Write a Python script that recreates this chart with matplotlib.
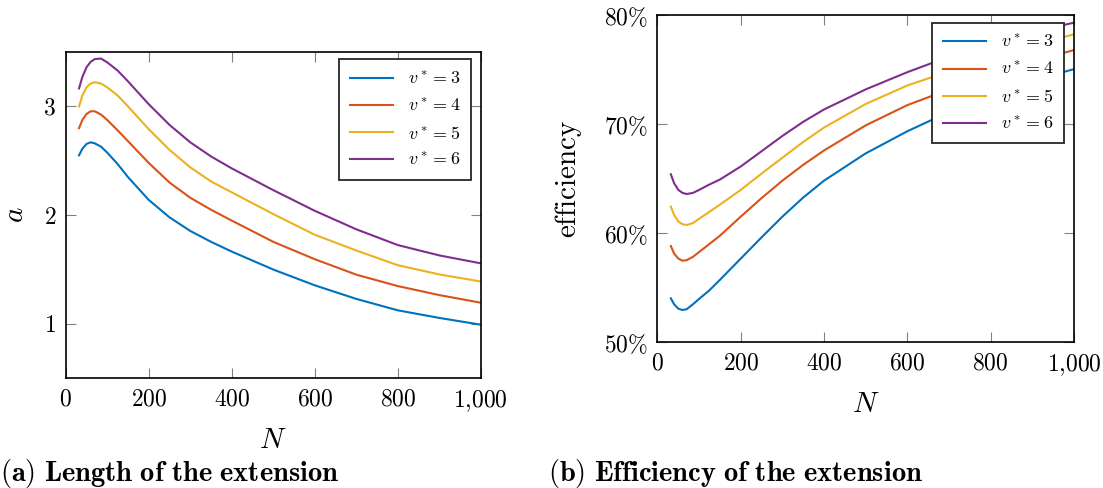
import matplotlib
matplotlib.use("Agg")
import matplotlib.pyplot as plt
from matplotlib.ticker import FuncFormatter

plt.rcParams['mathtext.fontset'] = 'cm'
plt.rcParams['font.family'] = ['cmr10', 'DejaVu Serif']
plt.rcParams['axes.formatter.use_mathtext'] = True

# N values shared by both panels
N = [32, 40, 50, 60, 70, 85, 100, 125, 150, 200, 250, 300, 350, 400, 500, 600, 700, 800, 900, 1000]

labels = [r'$v^* = 3$', r'$v^* = 4$', r'$v^* = 5$', r'$v^* = 6$']
colors = ['#0072BD', '#D95319', '#EDB120', '#7E2F8E']

# (a) length of the extension
a_v3 = [2.55, 2.61, 2.655, 2.67, 2.66, 2.63, 2.575, 2.47, 2.35, 2.14, 1.98, 1.855, 1.755, 1.665, 1.50, 1.355, 1.23, 1.125, 1.055, 0.993]
a_v4 = [2.80, 2.875, 2.93, 2.955, 2.955, 2.925, 2.875, 2.78, 2.68, 2.48, 2.30, 2.16, 2.05, 1.95, 1.755, 1.595, 1.453, 1.348, 1.265, 1.195]
a_v5 = [3.0, 3.10, 3.175, 3.21, 3.223, 3.21, 3.175, 3.10, 3.00, 2.79, 2.60, 2.44, 2.31, 2.21, 2.01, 1.82, 1.675, 1.54, 1.455, 1.39]
a_v6 = [3.165, 3.27, 3.36, 3.41, 3.435, 3.44, 3.405, 3.33, 3.23, 3.02, 2.83, 2.67, 2.54, 2.43, 2.23, 2.04, 1.87, 1.725, 1.63, 1.557]

# (b) efficiency of the extension, in %
e_v3 = [54.05, 53.5, 53.1, 52.98, 53.05, 53.5, 54.0, 54.8, 55.75, 57.7, 59.65, 61.55, 63.3, 64.85, 67.35, 69.38, 71.15, 72.71, 74.02, 75.08]
e_v4 = [58.85, 58.15, 57.7, 57.5, 57.55, 57.85, 58.3, 59.05, 59.8, 61.55, 63.25, 64.85, 66.3, 67.62, 69.92, 71.78, 73.21, 74.55, 75.76, 76.83]
e_v5 = [62.46, 61.7, 61.1, 60.85, 60.78, 60.95, 61.35, 62.0, 62.65, 64.0, 65.5, 66.95, 68.4, 69.72, 71.88, 73.58, 74.87, 76.14, 77.27, 78.27]
e_v6 = [65.43, 64.6, 64.0, 63.72, 63.62, 63.72, 64.0, 64.5, 64.95, 66.15, 67.55, 68.95, 70.25, 71.38, 73.22, 74.8, 76.22, 77.45, 78.49, 79.34]

a_series = [a_v3, a_v4, a_v5, a_v6]
e_series = [e_v3, e_v4, e_v5, e_v6]

fig = plt.figure(figsize=(11.03, 4.88), dpi=100)
ax1 = fig.add_axes([0.0596, 0.2248, 0.3763, 0.6686])
ax2 = fig.add_axes([0.5961, 0.2982, 0.3776, 0.6701])


def style_axes(ax):
	for sp in ax.spines.values():
		sp.set_linewidth(1.2)
		sp.set_color('black')
	ax.tick_params(direction='in', length=7.5, width=0.8, color='#808080',
		top=True, right=True, labelsize=17, pad=7)
	ax.set_xlim(0, 1000)
	ax.set_xticks([0, 200, 400, 600, 800, 1000])
	ax.xaxis.set_major_formatter(FuncFormatter(
		lambda v, p: r'$%d{,}%03d$' % (v // 1000, v % 1000) if v >= 1000 else r'$%d$' % v))
	ax.set_xlabel(r'$N$', fontsize=21, labelpad=10)


def add_legend(ax):
	leg = ax.legend(loc='upper right', bbox_to_anchor=(0.977, 0.978), borderaxespad=0,
		fancybox=False, edgecolor='#262626', framealpha=1, fontsize=13,
		handlelength=2.4, labelspacing=0.55, borderpad=0.6)
	leg.get_frame().set_linewidth(1.3)


for ys, c, lab in zip(a_series, colors, labels):
	ax1.plot(N, ys, color=c, lw=1.5, label=lab)
style_axes(ax1)
ax1.set_ylim(0.5, 3.5)
ax1.set_yticks([1, 2, 3])
ax1.yaxis.set_major_formatter(FuncFormatter(lambda v, p: r'$%d$' % v))
ax1.set_ylabel(r'$a$', fontsize=21, labelpad=10)
add_legend(ax1)

for ys, c, lab in zip(e_series, colors, labels):
	ax2.plot(N, [y / 100 for y in ys], color=c, lw=1.5, label=lab)
style_axes(ax2)
ax2.set_ylim(0.5, 0.8)
ax2.set_yticks([0.5, 0.6, 0.7, 0.8])
ax2.yaxis.set_major_formatter(FuncFormatter(lambda v, p: r'$%d\%%$' % round(v * 100)))
ax2.set_ylabel(r'$\mathrm{efficiency}$', fontsize=21, labelpad=14)
add_legend(ax2)

fig.text(0.0, 0.014, r'$\mathbf{(a)\ Length\ of\ the\ extension}$', fontsize=20.5, va='baseline')
fig.text(0.4965, 0.014, r'$\mathbf{(b)\ Efficiency\ of\ the\ extension}$', fontsize=20.5, va='baseline')

fig.savefig('out.png', dpi=100)
